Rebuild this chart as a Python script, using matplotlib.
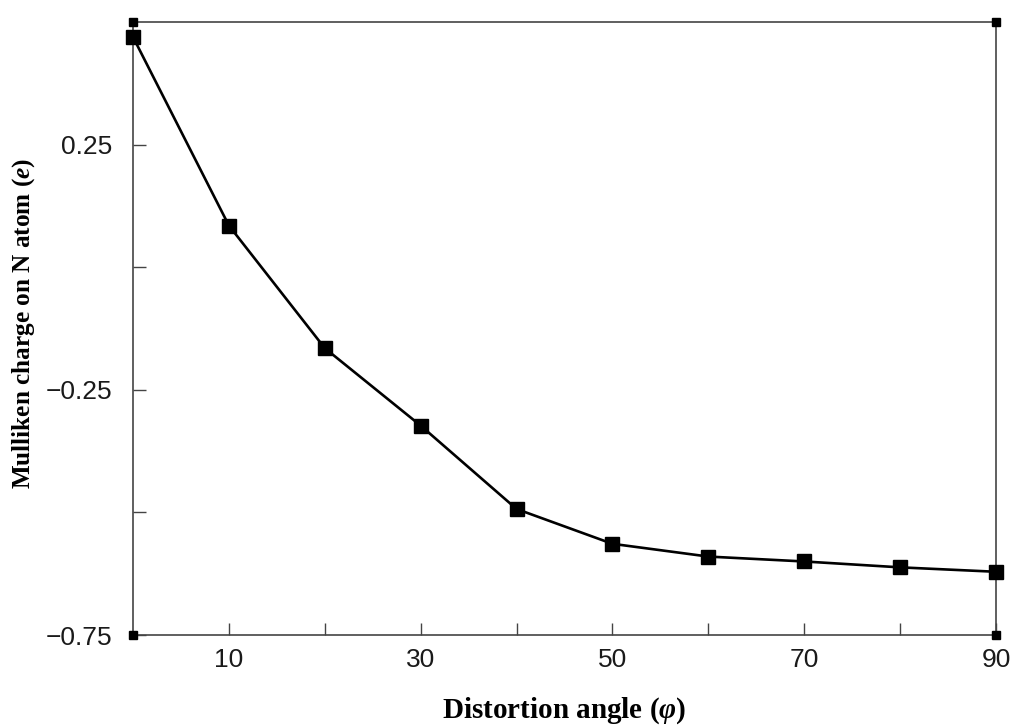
import matplotlib
matplotlib.use('Agg')
from matplotlib import pyplot as plt
import numpy as np

# data
angles = [0, 10, 20, 30, 40, 50, 60, 70, 80, 90]
charge = [0.4695, 0.085, -0.165, -0.323, -0.493, -0.564, -0.590, -0.600, -0.612, -0.621]

x_labeled = [10, 30, 50, 70, 90]
y_labeled = [0.25, -0.25, -0.75]

plt.rcParams['mathtext.fontset'] = 'custom'
plt.rcParams['mathtext.rm'] = 'Liberation Serif:bold'
plt.rcParams['mathtext.it'] = 'Liberation Serif:italic:bold'
plt.rcParams['mathtext.bf'] = 'Liberation Serif:italic:bold'

fig = plt.figure(figsize=(10.13, 7.25), dpi=100)
ax = fig.add_axes([0.1313, 0.1241, 0.8519, 0.8455])

ax.plot(angles, charge, color='black', lw=1.9, marker='s', ms=9.5, clip_on=False, zorder=3)

ax.set_xlim(0, 90)
ax.set_ylim(-0.75, 0.5)

# all ticks inward, only some labeled
ax.set_xticks(np.arange(10, 91, 10))
ax.set_xticklabels([str(v) if v in x_labeled else '' for v in range(10, 91, 10)])
yt = [0.25, 0.0, -0.25, -0.5, -0.75]
ax.set_yticks(yt)
ax.set_yticklabels([f'{v:.2f}'.replace('-', '\u2212') if v in y_labeled else '' for v in yt])
ax.tick_params(direction='in', length=9, width=1, color='#444444',
               labelsize=19, top=False, right=False)
ax.tick_params(axis='x', pad=9)
ax.tick_params(axis='y', pad=15)
for lab in ax.get_xticklabels() + ax.get_yticklabels():
    lab.set_fontfamily('Liberation Sans')
    lab.set_color('#1a1a1a')

for s in ax.spines.values():
    s.set_color('#444444')
    s.set_linewidth(1.2)

# little squares at the frame corners
ax.plot([0, 1, 0, 1], [0, 0, 1, 1], 's', color='black', ms=6,
        transform=ax.transAxes, clip_on=False, zorder=4)

ax.set_xlabel(r'Distortion angle ($\varphi$)', fontsize=21,
              fontfamily='Liberation Serif', fontweight='bold', labelpad=17)
ax.set_ylabel('Mulliken charge on N atom ($e$)', fontsize=18.2,
              fontfamily='Liberation Serif', fontweight='bold')
ax.yaxis.set_label_coords(-0.111, 0.508)

fig.savefig('out.png', dpi=100)
